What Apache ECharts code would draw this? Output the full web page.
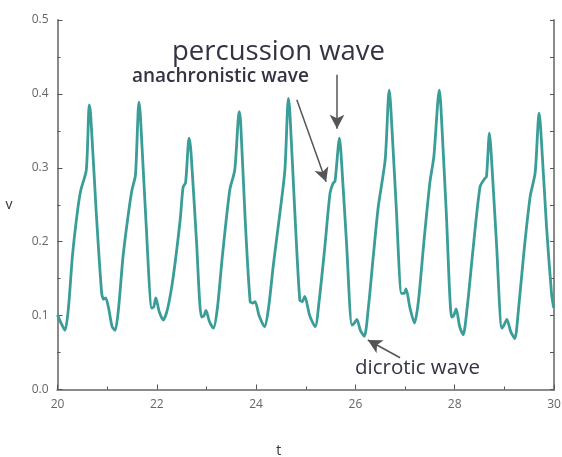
<!DOCTYPE html>
<html>
<head>
<meta charset="utf-8">
<script src="https://cdn.jsdelivr.net/npm/echarts@6/dist/echarts.min.js"></script>
<style>
  html, body { margin: 0; padding: 0; background: #fff; }
  #contain { width: 562px; height: 457px; }
</style>
</head>
<body>
<div id="contain"></div>
<script>
// pulse wave samples
const tValues = [
  20.00, 20.07, 20.15, 20.22, 20.30, 20.40, 20.47, 20.58, 20.64, 20.67, 20.78, 20.89, 20.93, 20.97, 21.03, 21.10,
  21.16, 21.23, 21.32, 21.43, 21.50, 21.57, 21.64, 21.67, 21.78, 21.90, 21.94, 21.98, 22.05,
  22.13, 22.22, 22.33, 22.47, 22.53, 22.58, 22.65, 22.69, 22.80, 22.90, 22.95, 22.99, 23.06,
  23.14, 23.22, 23.32, 23.47, 23.57, 23.66, 23.69, 23.78, 23.88, 23.93, 23.98, 24.06,
  24.17, 24.25, 24.35, 24.48, 24.58, 24.65, 24.68, 24.78, 24.88, 24.93, 24.98, 25.08,
  25.19, 25.27, 25.38, 25.49, 25.55, 25.59, 25.68, 25.71, 25.82, 25.93, 25.98, 26.03, 26.10,
  26.18, 26.26, 26.36, 26.46, 26.60, 26.68, 26.71, 26.82, 26.93, 26.98, 27.02, 27.10,
  27.19, 27.27, 27.38, 27.50, 27.58, 27.69, 27.72, 27.83, 27.94, 27.98, 28.03, 28.10,
  28.17, 28.25, 28.37, 28.51, 28.60, 28.64, 28.70, 28.73, 28.84, 28.95, 29.00, 29.05, 29.13,
  29.21, 29.28, 29.40, 29.52, 29.62, 29.70, 29.73, 29.85, 29.95, 29.99, 30.00
];
const vValues = [
  0.101, 0.090, 0.080, 0.110, 0.180, 0.240, 0.270, 0.297, 0.385, 0.370, 0.240, 0.130, 0.122, 0.124, 0.110, 0.085,
  0.080, 0.110, 0.180, 0.239, 0.270, 0.290, 0.389, 0.370, 0.230, 0.110, 0.112, 0.124, 0.105,
  0.094, 0.110, 0.152, 0.229, 0.274, 0.280, 0.340, 0.320, 0.200, 0.098, 0.100, 0.107, 0.092,
  0.083, 0.110, 0.180, 0.270, 0.297, 0.376, 0.360, 0.230, 0.119, 0.117, 0.119, 0.100,
  0.085, 0.110, 0.170, 0.239, 0.297, 0.394, 0.375, 0.240, 0.121, 0.119, 0.126, 0.100,
  0.085, 0.120, 0.190, 0.266, 0.279, 0.282, 0.340, 0.320, 0.200, 0.087, 0.090, 0.095, 0.080,
  0.072, 0.110, 0.180, 0.247, 0.311, 0.405, 0.385, 0.250, 0.130, 0.130, 0.136, 0.110,
  0.090, 0.120, 0.200, 0.280, 0.315, 0.405, 0.385, 0.240, 0.098, 0.100, 0.109, 0.085,
  0.074, 0.110, 0.190, 0.274, 0.285, 0.288, 0.347, 0.325, 0.200, 0.083, 0.088, 0.095, 0.078,
  0.069, 0.105, 0.190, 0.261, 0.293, 0.374, 0.355, 0.220, 0.130, 0.112, 0.111
];
const xTicks = [20, 22, 24, 26, 28, 30];
const yTicks = [0, 0.1, 0.2, 0.3, 0.4, 0.5];

// annotation arrows, in data coordinates [t, v] -> [t, v]
const arrowFrom = [[25.63, 0.426], [24.82, 0.392], [26.90, 0.043]];
const arrowTo = [[25.63, 0.353], [25.41, 0.281], [26.25, 0.067]];

const chart = echarts.init(document.getElementById('contain'));
const axisGray = '#8a8a8a';

const option = {
  animation: false,
  textStyle: { fontFamily: 'Open Sans' },
  grid: { left: 57.5, right: 8, top: 20, bottom: 67.5, outerBoundsMode: 'none' },
  xAxis: [
    {
      type: 'value',
      position: 'bottom',
      min: xTicks[0],
      max: xTicks[xTicks.length - 1],
      interval: 2,
      name: 't',
      nameLocation: 'middle',
      nameGap: 55,
      nameTextStyle: { color: '#333', fontSize: 14, padding: [0, 54, 0, 0] },
      axisLine: { lineStyle: { color: axisGray, width: 2 } },
      axisTick: { inside: true, length: 5, lineStyle: { color: '#555' } },
      minorTick: { show: true, splitNumber: 2, length: 3, lineStyle: { color: '#555' } },
      axisLabel: { color: '#666', fontSize: 12, margin: 9 },
      splitLine: { show: false }
    },
    {
      type: 'value',
      position: 'top',
      min: xTicks[0],
      max: xTicks[xTicks.length - 1],
      axisLine: { show: true, lineStyle: { color: axisGray, width: 2 } },
      axisTick: { show: false },
      axisLabel: { show: false },
      splitLine: { show: false }
    }
  ],
  yAxis: [
    {
      type: 'value',
      position: 'left',
      min: yTicks[0],
      max: yTicks[yTicks.length - 1],
      interval: 0.1,
      name: 'v',
      nameLocation: 'middle',
      nameGap: 45,
      nameRotate: 0,
      nameTextStyle: { color: '#333', fontSize: 14 },
      axisLine: { show: true, lineStyle: { color: axisGray, width: 2 } },
      axisTick: { inside: true, length: 5, lineStyle: { color: '#555' } },
      minorTick: { show: true, splitNumber: 2, length: 3, lineStyle: { color: '#555' } },
      axisLabel: { color: '#666', fontSize: 12, margin: 9, formatter: v => v.toFixed(1) },
      splitLine: { show: false }
    },
    {
      type: 'value',
      position: 'right',
      min: yTicks[0],
      max: yTicks[yTicks.length - 1],
      interval: 0.1,
      axisLine: { show: true, lineStyle: { color: axisGray, width: 2 } },
      axisTick: { inside: true, length: 4, lineStyle: { color: '#555' } },
      minorTick: { show: true, splitNumber: 2, length: 4, lineStyle: { color: '#555' } },
      axisLabel: { show: false },
      splitLine: { show: false }
    }
  ],
  series: [
    {
      type: 'line',
      data: tValues.map((t, i) => [t, vValues[i]]),
      showSymbol: false,
      smooth: 0.25,
      lineStyle: { color: '#3a9d98', width: 2.8 },
      markLine: {
        silent: true,
        symbol: ['none', 'arrow'],
        symbolSize: [11, 14],
        label: { show: false },
        lineStyle: { color: '#555', width: 1.5, type: 'solid' },
        data: arrowFrom.map((p, i) => [{ coord: p }, { coord: arrowTo[i] }])
      }
    }
  ],
  graphic: [
    { type: 'text', left: 172, top: 38, style: { text: 'percussion wave', font: '27.5px "Open Sans"', fill: '#333344' } },
    { type: 'text', left: 132, top: 67, style: { text: 'anachronistic wave', font: '600 19px "Open Sans"', fill: '#333344' } },
    { type: 'text', left: 355, top: 358, style: { text: 'dicrotic wave', font: '20.5px "Open Sans"', fill: '#333344' } }
  ]
};

chart.setOption(option);
</script>
</body>
</html>
